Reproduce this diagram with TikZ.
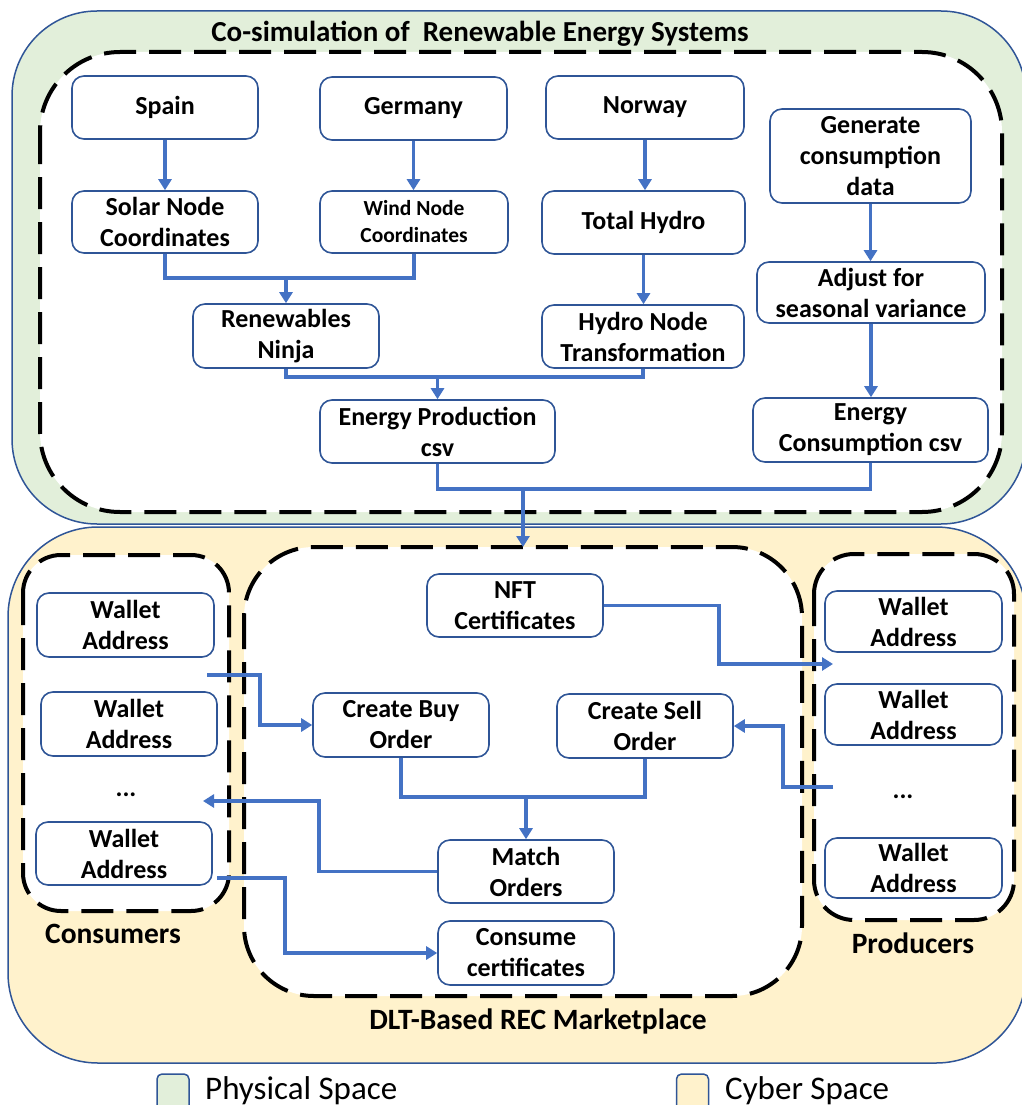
\documentclass[tikz,border=0pt]{standalone}
\usepackage{fontspec}
\setmainfont{Carlito}
\usetikzlibrary{arrows.meta}
\definecolor{bordblue}{HTML}{2F5597}
\definecolor{linkblue}{HTML}{4472C4}
\definecolor{physgreen}{HTML}{E2EFDA}
\definecolor{cyberyellow}{HTML}{FFF2CC}
\begin{document}
\begin{tikzpicture}[x=1pt,y=-1pt,
  box/.style={draw=bordblue, line width=1.6pt, rounded corners=12pt, fill=white, align=center,
    font=\fontsize{26}{31}\selectfont\bfseries, inner sep=0pt},
  smallbox/.style={box, font=\fontsize{21.5}{27}\selectfont\bfseries},
  link/.style={draw=linkblue, line width=3.5pt},
  arr/.style={link, -{Triangle[length=11pt,width=13pt]}},
  zone/.style={draw=black, line width=4pt, dash pattern=on 32pt off 13pt, fill=white},
  spacebox/.style={draw=bordblue, line width=1.5pt},
  lab/.style={font=\fontsize{29.5}{34}\selectfont\bfseries, inner sep=0pt},
  dotlab/.style={font=\fontsize{26}{31}\selectfont\bfseries, inner sep=0pt},
  legtext/.style={font=\fontsize{33}{38}\selectfont, inner sep=0pt, anchor=base west},
  legsq/.style={draw=bordblue, line width=1.5pt, rounded corners=5pt, minimum width=32pt, minimum height=40pt, inner sep=0pt},
]
\useasboundingbox (0,0) rectangle (1022,1105);
\clip (0,0) rectangle (1022,1105);

% spaces
\draw[spacebox, fill=physgreen, rounded corners=85pt] (12,11) rectangle (1026,524);
\draw[spacebox, fill=cyberyellow, rounded corners=90pt] (8,527) rectangle (1026,1063);

% zones
\draw[zone, rounded corners=80pt] (40,52) rectangle (1002,512);
\draw[zone, rounded corners=38pt] (23,555) rectangle (229,911);
\draw[zone, rounded corners=70pt] (244,547) rectangle (802,996);
\draw[zone, rounded corners=40pt] (814,554) rectangle (1014,920);

% labels
\node[lab, font=\fontsize{29}{34}\selectfont\bfseries] (title) at (480,34) {Co-simulation of~ Renewable Energy Systems};
\node[lab] (consumers) at (113,934) {Consumers};
\node[lab] (producers) at (913,943) {Producers};
\node[lab] (dlt) at (538,1021) {DLT-Based REC Marketplace};

% top nodes
\node[box, minimum width=186pt, minimum height=63pt] (spain) at (165,107.5) {Spain};
\node[box, minimum width=187pt, minimum height=63pt] (germany) at (413.5,108.5) {Germany};
\node[box, minimum width=198pt, minimum height=63pt] (norway) at (645,107.5) {Norway};
\node[box, minimum width=201pt, minimum height=94pt] (gen) at (870.5,156) {Generate\\consumption\\data};
\node[box, minimum width=186pt, minimum height=62pt] (solar) at (165,222) {Solar Node\\Coordinates};
\node[smallbox, minimum width=188pt, minimum height=62pt] (wind) at (414,222) {Wind Node\\Coordinates};
\node[box, minimum width=203pt, minimum height=63pt] (hydro) at (643.5,222.5) {Total Hydro};
\node[box, minimum width=228pt, minimum height=61pt] (adjust) at (871,292.5) {Adjust for\\seasonal variance};
\node[box, minimum width=186pt, minimum height=64pt] (ninja) at (286,336) {Renewables\\Ninja};
\node[box, minimum width=202pt, minimum height=63pt] (hnode) at (643,336.5) {Hydro Node\\Transformation};
\node[box, minimum width=235pt, minimum height=63pt] (eprod) at (437.5,431.5) {Energy Production\\csv};
\node[box, minimum width=235pt, minimum height=64pt] (econs) at (870.5,430) {Energy\\Consumption csv};

% bottom nodes
\node[box, minimum width=177pt, minimum height=64pt] (cw1) at (125.5,625) {Wallet\\Address};
\node[box, minimum width=176pt, minimum height=64pt] (cw2) at (129,724) {Wallet\\Address};
\node[dotlab] (cdots) at (126,795) {...};
\node[box, minimum width=176pt, minimum height=63pt] (cw3) at (124,853.5) {Wallet\\Address};
\node[box, minimum width=177pt, minimum height=61pt] (pw1) at (913.5,621.5) {Wallet\\Address};
\node[box, minimum width=177pt, minimum height=61pt] (pw2) at (913.5,714.5) {Wallet\\Address};
\node[dotlab] (pdots) at (903,797) {...};
\node[box, minimum width=177pt, minimum height=60pt] (pw3) at (913.5,868) {Wallet\\Address};
\node[box, minimum width=176pt, minimum height=63pt] (nft) at (515,605.5) {NFT\\Certificates};
\node[box, minimum width=176pt, minimum height=64pt] (buy) at (401,725) {Create Buy\\Order};
\node[box, minimum width=176pt, minimum height=64pt] (sell) at (645,726) {Create Sell\\Order};
\node[box, minimum width=176pt, minimum height=63pt] (match) at (526,871.5) {Match\\Orders};
\node[box, minimum width=176pt, minimum height=64pt] (consume) at (526,953) {Consume\\certificates};

% top connectors
\draw[arr] (spain.south) -- (solar.north);
\draw[arr] (germany.south) -- (germany.south |- wind.north);
\draw[arr] (norway.south) -- (norway.south |- hydro.north);
\draw[arr] (gen.south) -- (gen.south |- adjust.north);
\draw[arr] (adjust.south) -- (adjust.south |- econs.north);
\draw[arr] (hydro.south) -- (hydro.south |- hnode.north);
\coordinate (j1) at (286,278);
\draw[link] (solar.south) |- (j1) -| (wind.south);
\draw[arr] (j1) -- (ninja.north);
\coordinate (j2) at (437.5,377);
\draw[link] (ninja.south) |- (j2) -| (hnode.south);
\draw[arr] (j2) -- (eprod.north);
\coordinate (j3) at (523,489);
\coordinate (dlttop) at (523,547);
\draw[link] (eprod.south) |- (j3) -| (econs.south);
\draw[arr] (j3) -- (dlttop);

% bottom connectors
\coordinate (ptin) at (833,664);
\draw[arr] (nft.east) -- ++(115,0) |- (ptin);
\coordinate (cout1) at (207,675);
\draw[arr] (cout1) -- ++(53,0) |- (buy.west);
\coordinate (pout) at (833,787);
\draw[arr] (pout) -- ++(-50,0) |- (sell.east);
\coordinate (j4) at (526,797);
\draw[link] (buy.south) |- (j4) -| (sell.south);
\draw[arr] (j4) -- (match.north);
\coordinate (cin) at (203,801);
\draw[arr] (match.west) -- ++(-118,0) |- (cin);
\coordinate (cout2) at (217,878);
\draw[arr] (cout2) -- ++(68,0) |- (consume.west);

% legend
\node[legsq, fill=physgreen] (lg1) at (173,1094) {};
\node[legtext] (lt1) at (205,1099) {Physical Space};
\node[legsq, fill=cyberyellow] (lg2) at (692.5,1094) {};
\node[legtext] (lt2) at (725,1099) {Cyber Space};
\end{tikzpicture}
\end{document}
